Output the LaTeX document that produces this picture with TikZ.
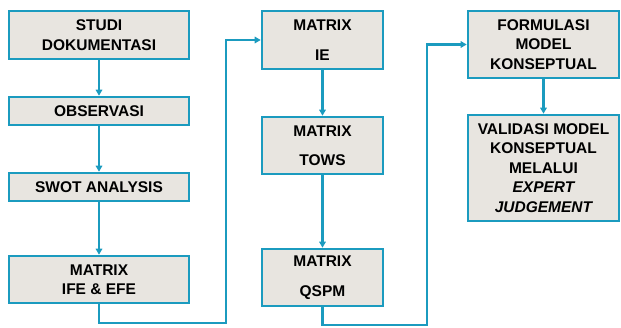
\documentclass[tikz,border=0pt]{standalone}
\usepackage{fontspec}
\setmainfont{Liberation Sans}
\usetikzlibrary{arrows.meta,positioning}
\definecolor{edgeC}{HTML}{1B9BBF}
\definecolor{boxC}{HTML}{E8E5E0}

\begin{document}
\begin{tikzpicture}[x=1pt,y=-1pt,>={Triangle[length=6pt,width=6.5pt]},
    every node/.style={font=\fontsize{15.5}{19.5}\selectfont\bfseries},
    stepbox/.style={draw=edgeC,line width=2.6pt,fill=boxC,align=center,inner sep=2pt},
    flow/.style={edgeC,line width=2.2pt,->}]
  \useasboundingbox (0,0) rectangle (621,327);
  % ---- first column ----
  \node[stepbox,minimum width=180pt,minimum height=48pt] (studi) at (99,35) {STUDI\\DOKUMENTASI};
  \node[stepbox,minimum width=180pt,minimum height=28pt] (obs) at (99,111) {OBSERVASI};
  \node[stepbox,minimum width=180pt,minimum height=28pt] (swot) at (99,187) {SWOT ANALYSIS};
  \node[stepbox,minimum width=180pt,minimum height=47pt] (ife) at (99,279.5) {MATRIX\\IFE \& EFE};
  \draw[flow] (studi)--(obs); \draw[flow] (obs)--(swot); \draw[flow] (swot)--(ife);
  % ---- second column ----
  \node[stepbox,minimum width=121pt,minimum height=58pt] (ie) at (322.5,40) {MATRIX\\[10pt]IE};
  \node[stepbox,minimum width=121pt,minimum height=57pt] (tows) at (322.5,145.5) {MATRIX\\[10pt]TOWS};
  \node[stepbox,minimum width=121pt,minimum height=57pt] (qspm) at (322.5,277.5) {MATRIX\\[10pt]QSPM};
  \draw[flow] (ie)--(tows); \draw[flow] (tows)--(qspm);
  % ---- third column ----
  \node[stepbox,minimum width=151pt,minimum height=67pt] (form) at (543.5,44.5) {FORMULASI\\MODEL\\KONSEPTUAL};
  \node[stepbox,minimum width=151pt,minimum height=106pt] (valid) at (543.5,168)
       {VALIDASI MODEL\\KONSEPTUAL\\MELALUI\\\itshape EXPERT\\\itshape JUDGEMENT};
  \draw[flow] (form)--(valid);
  % ---- links between columns ----
  \coordinate (j1) at (226,323);
  \coordinate (j2) at (427,325);
  \draw[flow] (ife.south) |- (j1) |- (ie.west);
  \draw[flow] (qspm.south) |- (j2) |- (form.west);
\end{tikzpicture}
\end{document}
